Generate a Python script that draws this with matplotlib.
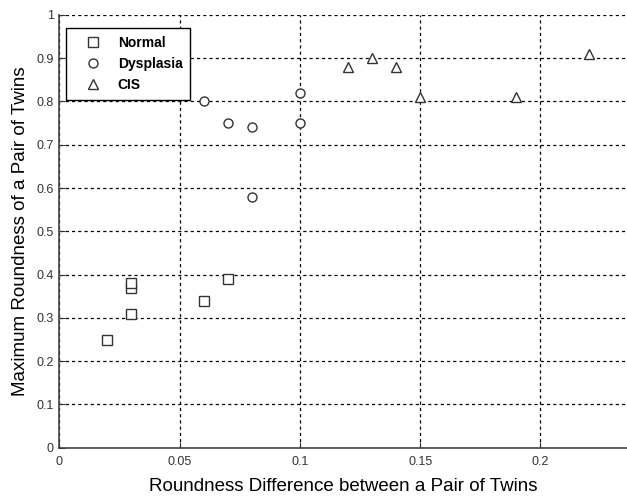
import numpy as np
import matplotlib
matplotlib.use("Agg")
import matplotlib.pyplot as plt

plt.rcParams['font.family'] = ['Liberation Sans', 'DejaVu Sans']

# roundness difference (x) and max roundness (y) per group
normal_x = [0.02, 0.03, 0.03, 0.03, 0.06, 0.07]
normal_y = [0.25, 0.31, 0.37, 0.38, 0.34, 0.39]
dysplasia_x = [0.06, 0.07, 0.08, 0.08, 0.10, 0.10]
dysplasia_y = [0.80, 0.75, 0.74, 0.58, 0.82, 0.75]
cis_x = [0.12, 0.13, 0.14, 0.15, 0.19, 0.22]
cis_y = [0.88, 0.90, 0.88, 0.81, 0.81, 0.91]

xticks = [0, 0.05, 0.1, 0.15, 0.2]
xticklabels = ['0', '0.05', '0.1', '0.15', '0.2']
yticks = np.round(np.arange(0, 1.01, 0.1), 1)
yticklabels = ['0', '0.1', '0.2', '0.3', '0.4', '0.5', '0.6', '0.7', '0.8', '0.9', '1']

fig = plt.figure(figsize=(6.27, 4.98), dpi=100)
ax = fig.add_axes([0.0946, 0.101, 0.9054, 0.869])

mk = dict(linestyle='none', markerfacecolor='white', markeredgecolor='#333333', markeredgewidth=1.0)
ax.plot(normal_x, normal_y, marker='s', markersize=6.5, label='Normal', **mk)
ax.plot(dysplasia_x, dysplasia_y, marker='o', markersize=6.5, label='Dysplasia', **mk)
ax.plot(cis_x, cis_y, marker='^', markersize=7, label='CIS', **mk)

ax.set_xlim(0, 0.236)
ax.set_ylim(0, 1)
ax.set_xticks(xticks)
ax.set_xticklabels(xticklabels)
ax.set_yticks(yticks)
ax.set_yticklabels(yticklabels)
ax.grid(True, color='black', linestyle=(0, (2.5, 2.5)), linewidth=0.9)
ax.set_axisbelow(True)

for s in ['top', 'right']:
    ax.spines[s].set_visible(False)
for s in ['left', 'bottom']:
    ax.spines[s].set_color('#444444')
    ax.spines[s].set_linewidth(1.2)
ax.tick_params(direction='in', length=4, labelsize=9, colors='#333333', pad=4)
ax.tick_params(axis='x', pad=6)

ax.set_xlabel('Roundness Difference between a Pair of Twins', fontsize=13.5, labelpad=7)
ax.set_ylabel('Maximum Roundness of a Pair of Twins', fontsize=13.5, labelpad=5)

leg = ax.legend(loc='upper left', bbox_to_anchor=(0.0, 0.985), prop={'weight': 'bold', 'size': 10},
                frameon=True, fancybox=False, edgecolor='black', framealpha=1,
                handletextpad=0.4, labelspacing=0.5, borderpad=0.55, handlelength=2.75)
leg.get_frame().set_linewidth(1.0)

plt.savefig('out.png', dpi=100)
